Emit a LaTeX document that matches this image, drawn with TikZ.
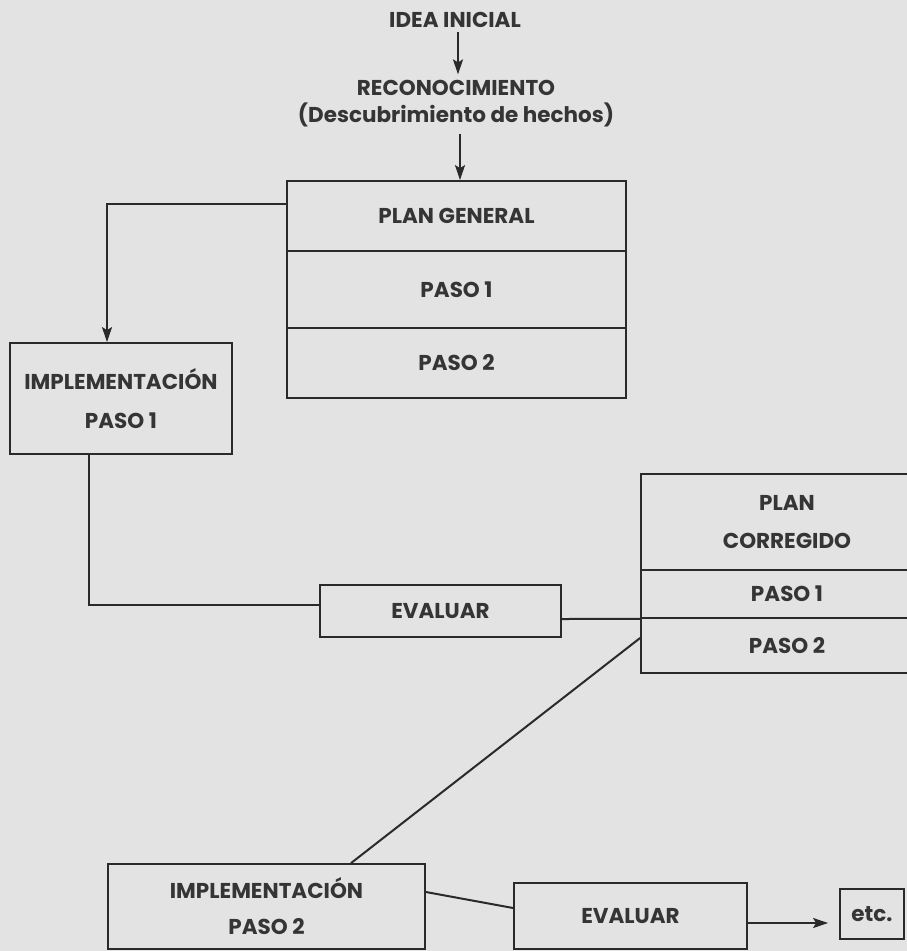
\documentclass[tikz,border=0pt]{standalone}
\usepackage{fontspec}
\setmainfont{Poppins}
\usetikzlibrary{arrows.meta}
\definecolor{bg}{HTML}{E3E3E3}
\definecolor{ink}{HTML}{2A2A2A}
\definecolor{txt}{HTML}{353535}
\tikzset{
  lbl/.style={text=txt,font=\bfseries\fontsize{21.5}{27}\selectfont,align=center,inner sep=0pt},
  cell/.style={lbl,draw=ink,line width=1.8pt},
  conn/.style={draw=ink,line width=2pt},
  arr/.style={conn,-{Stealth[length=15pt,width=10pt,inset=3pt]}}
}
\begin{document}
\begin{tikzpicture}[x=1pt,y=-1pt]
\fill[bg] (0,0) rectangle (907,951);
\useasboundingbox (0,0) rectangle (907,951);
\clip (0,0) rectangle (907,951);
% top texts
\node[lbl] (idea) at (455,20) {IDEA INICIAL};
\node[lbl] (recon) at (456,104) {RECONOCIMIENTO\\(Descubrimiento de hechos)};
% plan general
\node[cell,minimum width=339pt,minimum height=70pt] (pg1) at (456.5,216) {PLAN GENERAL};
\node[cell,minimum width=339pt,minimum height=77pt] (pg2) at (456.5,289.5) {PASO 1};
\node[cell,minimum width=339pt,minimum height=70pt] (pg3) at (456.5,363) {PASO 2};
% implementation 1
\node[cell,minimum width=222pt,minimum height=111pt,font=\bfseries\fontsize{21.5}{39}\selectfont] (impl1) at (121,398.5) {IMPLEMENTACIÓN\\PASO 1};
% evaluar 1
\node[cell,minimum width=241pt,minimum height=52pt] (ev1) at (440.5,611) {EVALUAR};
% plan corregido
\node[cell,minimum width=292pt,minimum height=96pt,font=\bfseries\fontsize{21.5}{38}\selectfont] (pc1) at (787,522) {PLAN\\CORREGIDO};
\node[cell,minimum width=292pt,minimum height=48pt] (pc2) at (787,594) {PASO 1};
\node[cell,minimum width=292pt,minimum height=55pt] (pc3) at (787,645.5) {PASO 2};
% implementation 2
\node[cell,minimum width=317pt,minimum height=85pt,font=\bfseries\fontsize{21.5}{36}\selectfont] (impl2) at (266.5,906.5) {IMPLEMENTACIÓN\\PASO 2};
% evaluar 2
\node[cell,minimum width=233pt,minimum height=66pt] (ev2) at (630.5,916) {EVALUAR};
% etc
\node[cell,minimum width=64pt,minimum height=50pt] (etc) at (872,914) {etc.};
% connectors
\draw[arr] ([xshift=3pt,yshift=-4pt]idea.south) -- ([xshift=2pt,yshift=6pt]recon.north);
\draw[arr] ([xshift=4pt,yshift=-6pt]recon.south) -- ([xshift=3.5pt]pg1.north);
\draw[arr] ([yshift=12pt]pg1.west) -| ([xshift=-14pt]impl1.north);
\draw[conn] ([xshift=-32pt]impl1.south) |- ([yshift=6pt]ev1.west);
\draw[conn] ([yshift=-8pt]ev1.east) -- (pc2.south west);
\draw[conn] ([yshift=7.5pt]pc3.west) -- ([xshift=84.5pt]impl2.north);
\draw[conn] ([yshift=14.5pt]impl2.east) -- ([yshift=8pt]ev2.west);
\draw[arr] ([yshift=-7pt]ev2.east) -- ([xshift=-11pt,yshift=-9pt]etc.west);
\end{tikzpicture}
\end{document}
